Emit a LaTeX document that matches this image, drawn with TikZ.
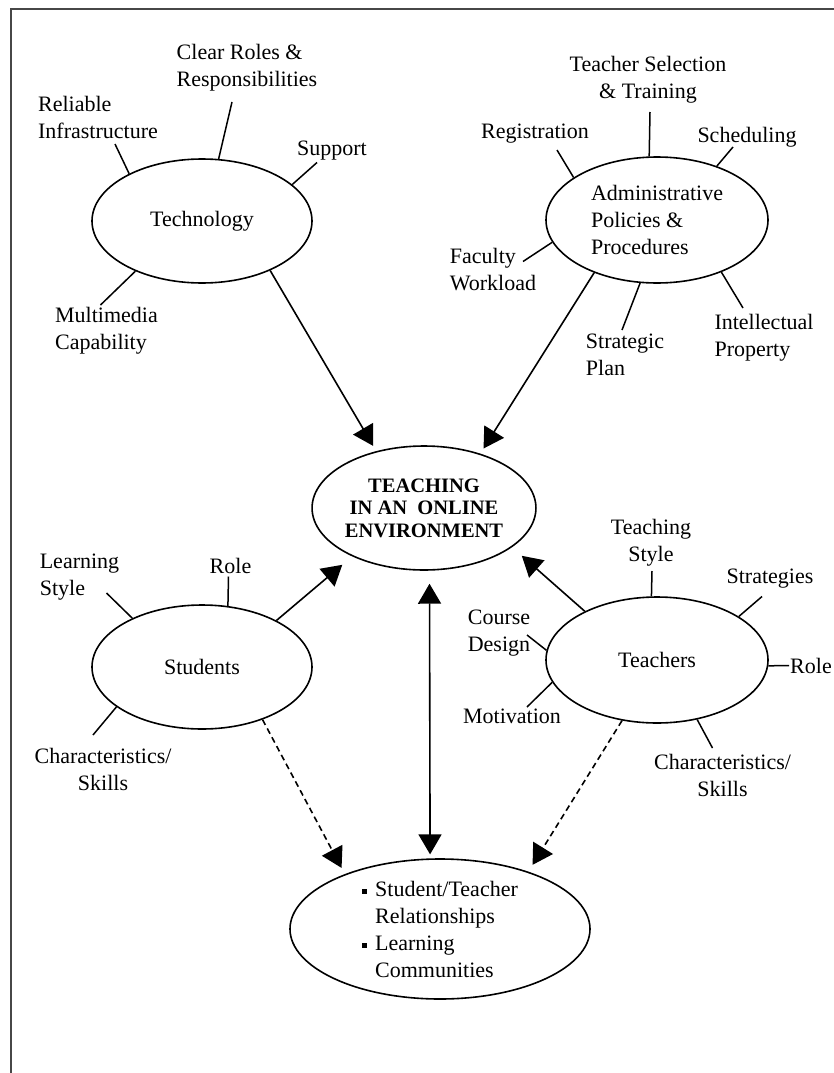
\documentclass[tikz,border=0pt]{standalone}
\usepackage{fontspec}
\setmainfont{Liberation Serif}
\usetikzlibrary{arrows.meta,shapes.geometric}

\newcommand{\blt}{\makebox[13pt][l]{\raisebox{2.5pt}{\rule{5pt}{5pt}}}}

\tikzset{
  >={Triangle[length=20pt,width=23pt]},
  frame/.style={line width=2.8pt, black!72},
  bubble/.style={draw, ellipse, line width=1.6pt, inner sep=0pt, align=center,
    font=\fontsize{22}{27}\selectfont},
  lbl/.style={inner sep=1pt, font=\fontsize{22}{27}\selectfont},
  spoke/.style={line width=1.5pt},
  link/.style={line width=1.6pt, ->},
  dlink/.style={link, dash pattern=on 6pt off 4pt},
}

\begin{document}
\begin{tikzpicture}[x=1pt, y=-1pt]
  \useasboundingbox (0,0) rectangle (834,1073);
  % frame
  \draw[frame] (11,1073) -- (11,9) -- (834,9);

  % main bubbles
  \node[bubble, minimum width=220pt, minimum height=124pt] (tech) at (202,221) {Technology};
  \node[bubble, align=left, minimum width=222pt, minimum height=126pt] (adm) at (657,220)
    {Administrative\\Policies \&\\Procedures};
  \node[bubble, minimum width=222pt, minimum height=124pt,
    font=\bfseries\fontsize{20.5}{22.5}\selectfont] (ctr) at (424,508)
    {TEACHING\\IN AN\ \ ONLINE\\ENVIRONMENT};
  \node[bubble, minimum width=220pt, minimum height=124pt] (stu) at (202,667) {Students};
  \node[bubble, minimum width=222pt, minimum height=126pt] (tea) at (657,660) {Teachers};
  \node[bubble, align=left, minimum width=300pt, minimum height=140pt] (comm) at (440,929)
    {\blt Student/Teacher\\\hspace*{13pt}Relationships\\\blt Learning\\\hspace*{13pt}Communities};

  % technology labels
  \node[lbl, align=left] (relinf) at (98,117) {Reliable\\Infrastructure};
  \node[lbl, align=left] (clrrol) at (247,68) {Clear Roles \&\\Responsibilities};
  \node[lbl] (supp) at (332,150.5) {Support};
  \node[lbl, align=left] (mmcap) at (106.5,331) {Multimedia\\Capability};

  % administrative labels
  \node[lbl, align=center] (tsel) at (648,80) {Teacher Selection\\\& Training};
  \node[lbl] (regis) at (535,134) {Registration};
  \node[lbl] (sched) at (747,137) {Scheduling};
  \node[lbl, align=left] (facwl) at (493,269.5) {Faculty\\Workload};
  \node[lbl, align=left] (strat) at (625,355) {Strategic\\Plan};
  \node[lbl, align=left] (ipr) at (764,338) {Intellectual\\Property};

  % student labels
  \node[lbl, align=left] (lstyle) at (79.5,577) {Learning\\Style};
  \node[lbl] (srole) at (230.5,565.5) {Role};
  \node[lbl, align=center] (schar) at (103,769) {Characteristics/\\Skills};

  % teacher labels
  \node[lbl, align=center] (tstyle) at (651,543) {Teaching\\Style};
  \node[lbl] (strg) at (770,578.5) {Strategies};
  \node[lbl, anchor=west] (trole) at (789,665.5) {Role};
  \node[lbl, align=left] (cdes) at (499,633) {Course\\Design};
  \node[lbl] (motiv) at (512,716) {Motivation};
  \node[lbl, align=center] (tchar) at (722.5,775) {Characteristics/\\Skills};

  % spokes
  \foreach \bub/\ang/\lab/\dx/\dy in {
    tech/147/relinf/17/27, tech/75/clrrol/-15/34, tech/22/supp/-15/12, tech/-143/mmcap/-6/-26,
    adm/97/tsel/2/32, adm/153/regis/22/16, adm/42/sched/-14/10, adm/192/facwl/30/-8,
    adm/-105/strat/-3/-25, adm/-39/ipr/-21/-30,
    stu/145/lstyle/27/16, stu/67/srole/-2/11, stu/-155/schar/-10/-34,
    tea/95/tstyle/1/28, tea/28/strg/-8/18, tea/175/cdes/28/2, tea/-168/motiv/15/-9,
    tea/-56/tchar/-10/-27}
    \draw[spoke] (\bub.\ang) -- ([shift={(\dx,\dy)}]\lab.center);
  \draw[spoke] (tea.-3) -- (trole.west);

  % influences
  \draw[link, shorten >=6pt] (tech.-36) -- (ctr.130);
  \draw[link, shorten >=6pt] (adm.220) -- (ctr.44);
  \draw[link, shorten >=13pt] (stu.32) -- (ctr.214);
  \draw[link, shorten >=13pt] (tea.146) -- (ctr.-24);
  \draw[link, <->, shorten <=13pt, shorten >=4pt] (ctr.-85) -- (comm.98);
  \draw[dlink, shorten >=7pt] (stu.-41) -- (comm.150);
  \draw[dlink, shorten >=8pt] (tea.-120) -- (comm.33);
\end{tikzpicture}
\end{document}
